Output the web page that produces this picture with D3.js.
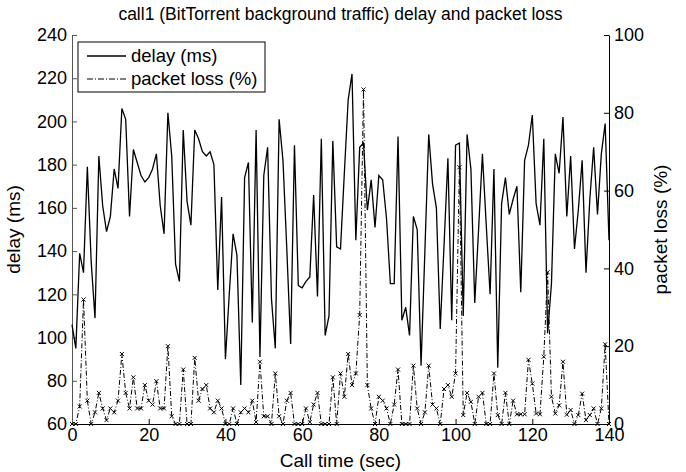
<!DOCTYPE html>
<html>
<head>
<meta charset="utf-8">
<script src="https://cdnjs.cloudflare.com/ajax/libs/d3/7.8.5/d3.min.js"></script>
<style>
  body { margin: 0; background: #fff; }
  text { font-family: "Liberation Sans", Arial, Helvetica, sans-serif; fill: #000; }
</style>
</head>
<body>
<script>
//chart data =========================================================
var title = 'call1 (BitTorrent background traffic) delay and packet loss';
var callTime = d3.range(0, 141); // one sample per second
var delayMs = [
  106, 95, 139, 130, 179, 135, 109, 184, 161, 149,
  156, 178, 169, 206, 201, 156, 187, 181, 175, 172,
  174, 178, 185, 161, 148, 204, 184, 134, 126, 196,
  163, 152, 196, 192, 186, 184, 186, 180, 122, 165,
  90, 120, 148, 138, 78, 174, 181, 107, 196, 91,
  175, 188, 118, 95, 201, 182, 141, 97, 189, 124,
  123, 126, 128, 166, 119, 192, 101, 110, 191, 142,
  141, 176, 210, 222, 145, 188, 190, 159, 173, 151,
  175, 173, 155, 125, 125, 193, 108, 114, 101, 156,
  150, 87, 140, 194, 171, 160, 104, 143, 183, 108,
  189, 190, 110, 194, 178, 116, 150, 185, 152, 120,
  178, 86, 162, 174, 157, 164, 170, 121, 182, 189,
  203, 162, 152, 192, 102, 125, 185, 176, 202, 156,
  184, 141, 159, 182, 130, 164, 188, 157, 185, 199,
  145
];
var packetLoss = [
  0, 0, 4.5, 32, 6, 0, 3, 8, 4, 1,
  4, 3, 6, 18, 8, 4, 12, 4, 4, 10,
  6, 5, 11, 4, 4, 20, 2, 0, 0, 14,
  0, 0, 17, 6, 9, 10, 4, 3, 6, 4,
  0, 0, 4, 0, 3, 4, 3, 6, 0.5, 16,
  2, 2, 0, 13, 2, 0, 6, 8, 0, 0,
  0, 4, 0.5, 5, 8, 0, 0, 0, 12, 0,
  13, 7, 18, 10, 13, 28, 86, 10, 4, 0,
  7, 6, 4, 0, 5, 14, 0, 0, 0, 15,
  4, 0, 3, 15, 5, 4, 0, 9, 10, 7,
  13, 66, 2.3, 8, 5.7, 0, 7, 8, 0, 0,
  13, 2.3, 0, 8, 0, 6, 2.5, 2.5, 2.5, 16.5,
  10.4, 2.7, 2.5, 17.3, 39, 7, 2.7, 4.8, 16, 2.4,
  3.6, 0, 2.3, 7.8, 1, 2.3, 4, 0, 4, 20.5,
  0
];
var timeTicks = [0, 20, 40, 60, 80, 100, 120, 140];
var delayTicks = [60, 80, 100, 120, 140, 160, 180, 200, 220, 240];
var lossTicks = [0, 20, 40, 60, 80, 100];
var legendLabels = ['delay (ms)', 'packet loss (%)'];

//plot metrics
var width = 686, height = 472;
var plotLeft = 72, plotRight = 609, plotTop = 35, plotBottom = 424;
var tickFont = 18, labelFont = 19, titleFont = 17.5;

var svg = d3.select('body').append('svg')
  .attr('width', width)
  .attr('height', height);

var x = d3.scaleLinear().domain([0, 140]).range([plotLeft, plotRight]);
var yDelay = d3.scaleLinear().domain([60, 240]).range([plotBottom, plotTop]);
var yLoss = d3.scaleLinear().domain([0, 100]).range([plotBottom, plotTop]);

//AXES ===============================================================
function styleAxis(g, color){
  g.selectAll('path').attr('stroke', color).attr('stroke-width', 1);
  g.selectAll('line').attr('stroke', color).attr('stroke-width', 1);
  g.selectAll('text').attr('font-size', tickFont).style('fill', '#000');
}

svg.append('g')
  .attr('transform', 'translate(0,' + plotBottom + ')')
  .call(d3.axisBottom(x).tickValues(timeTicks).tickSizeInner(-5).tickSizeOuter(0).tickPadding(4))
  .call(styleAxis, '#000');

svg.append('g')
  .attr('transform', 'translate(' + plotLeft + ',0)')
  .call(d3.axisLeft(yDelay).tickValues(delayTicks).tickSizeInner(-5).tickSizeOuter(0).tickPadding(5))
  .call(styleAxis, '#555');

svg.append('g')
  .attr('transform', 'translate(' + plotRight + ',0)')
  .call(d3.axisRight(yLoss).tickValues(lossTicks).tickSizeInner(-5).tickSizeOuter(0).tickPadding(5))
  .call(styleAxis, '#000');

svg.selectAll('.domain').attr('fill', 'none');

//SERIES =============================================================
var delayLine = d3.line()
  .x(function(d, i){ return x(callTime[i]); })
  .y(function(d){ return yDelay(d); });

var lossLine = d3.line()
  .x(function(d, i){ return x(callTime[i]); })
  .y(function(d){ return yLoss(d); });

svg.append('path')
  .datum(packetLoss)
  .attr('d', lossLine)
  .attr('fill', 'none')
  .attr('stroke', '#000')
  .attr('stroke-width', 1)
  .attr('stroke-dasharray', '5,2,1,2');

svg.selectAll('.mark').data(packetLoss)
  .enter().append('path')
  .attr('class', 'mark')
  .attr('transform', function(d, i){ return 'translate(' + x(callTime[i]) + ',' + yLoss(d) + ')'; })
  .attr('d', 'M-2,-2L2,2M-2,2L2,-2')
  .attr('stroke', '#000')
  .attr('stroke-width', 1);

svg.append('path')
  .datum(delayMs)
  .attr('d', delayLine)
  .attr('fill', 'none')
  .attr('stroke', '#000')
  .attr('stroke-width', 1.3)
  .attr('stroke-linejoin', 'miter');

//TEXTS ==============================================================
svg.append('text')
  .attr('x', (plotLeft + plotRight) / 2)
  .attr('y', 20)
  .attr('text-anchor', 'middle')
  .attr('font-size', titleFont)
  .text(title);

svg.append('text')
  .attr('x', (plotLeft + plotRight) / 2)
  .attr('y', 467)
  .attr('text-anchor', 'middle')
  .attr('font-size', labelFont)
  .text('Call time (sec)');

svg.append('text')
  .attr('transform', 'translate(20,' + (plotTop + plotBottom) / 2 + ') rotate(-90)')
  .attr('text-anchor', 'middle')
  .attr('font-size', labelFont)
  .text('delay (ms)');

svg.append('text')
  .attr('transform', 'translate(667,' + (plotTop + plotBottom) / 2 + ') rotate(-90)')
  .attr('text-anchor', 'middle')
  .attr('font-size', labelFont)
  .text('packet loss (%)');

//LEGEND =============================================================
var legend = svg.append('g').attr('transform', 'translate(78,42)');
legend.append('rect')
  .attr('width', 187).attr('height', 50)
  .attr('fill', '#fff').attr('stroke', '#000').attr('stroke-width', 1);

legend.selectAll('line').data(legendLabels)
  .enter().append('line')
  .attr('x1', 9).attr('x2', 48)
  .attr('y1', function(d, i){ return 14 + i * 23; })
  .attr('y2', function(d, i){ return 14 + i * 23; })
  .attr('stroke', '#000')
  .attr('stroke-width', function(d, i){ return i ? 1 : 1.3; })
  .attr('stroke-dasharray', function(d, i){ return i ? '6,2,1,2' : null; });

legend.selectAll('text').data(legendLabels)
  .enter().append('text')
  .attr('x', 53)
  .attr('y', function(d, i){ return 20 + i * 23; })
  .attr('font-size', 18.5)
  .text(function(d){ return d; });
</script>
</body>
</html>
